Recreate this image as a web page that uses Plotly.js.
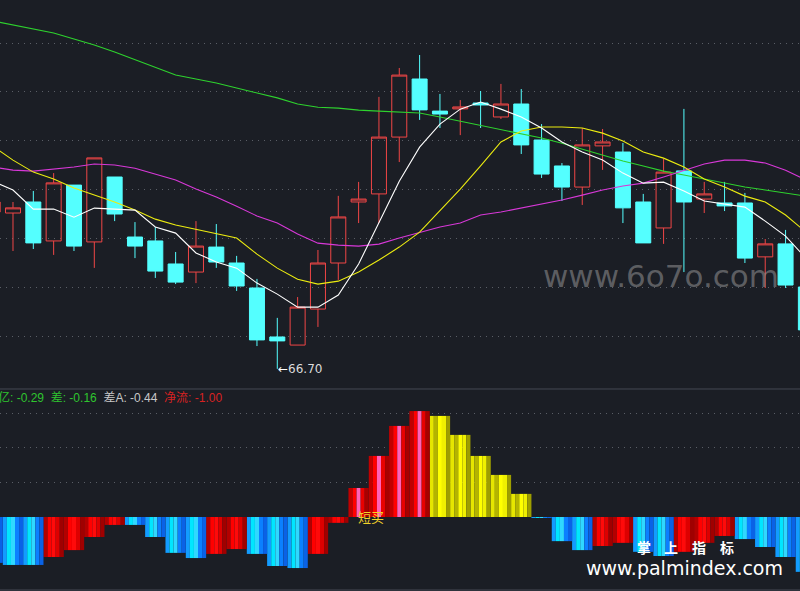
<!DOCTYPE html>
<html><head><meta charset="utf-8">
<script src="https://cdn.plot.ly/plotly-3.0.1.min.js"></script>
<style>html,body{margin:0;padding:0;background:#1b1e25;overflow:hidden}#chart{width:800px;height:591px}</style>
</head><body><div id="chart"></div>
<script>
// candle index positions (first one partly off-screen)
const firstIndex = -1;
const openP  = [73.10,73.06,73.51,71.92,74.20,71.88,74.53,72.08,71.92,70.98,70.65,71.67,71.02,70.00,68.00,67.67,69.14,71.02,73.51,73.84,76.16,78.53,77.22,77.31,77.55,76.98,77.51,76.04,74.98,74.12,75.80,75.55,73.51,72.45,74.78,73.63,73.47,73.47,71.27,71.80,70.04];
const highP  = [73.59,73.51,73.96,74.69,74.20,75.31,74.53,72.69,72.49,71.47,72.73,72.61,71.31,70.37,68.78,69.63,71.55,73.76,74.33,77.80,78.98,79.51,77.92,77.67,78.04,78.33,78.12,76.69,75.10,76.53,76.49,75.92,73.84,75.27,77.31,74.33,74.33,73.88,72.00,72.37,70.33];
const lowP   = [72.98,71.51,71.59,71.35,71.51,70.82,72.73,71.22,70.41,70.16,70.20,70.82,69.88,67.63,66.70,67.67,68.41,70.33,72.65,72.65,75.14,76.86,76.53,76.24,76.53,76.90,75.47,74.49,73.55,73.39,74.82,72.65,71.84,71.80,70.65,73.06,73.14,71.02,70.00,70.00,68.08];
const closeP = [73.51,73.27,71.84,74.29,71.71,75.31,73.02,71.71,70.69,70.24,71.71,71.06,70.08,67.88,67.84,69.22,71.02,72.90,73.63,76.16,78.69,77.27,77.10,77.39,77.47,77.51,75.84,74.65,74.12,75.84,75.96,73.27,71.84,74.73,73.51,73.84,73.35,71.22,71.80,70.12,68.29];

const maWhite   = [74.36,74.00,73.22,73.22,72.89,73.26,73.22,73.18,72.49,72.24,71.43,71.06,70.81,70.20,69.75,69.22,69.22,69.71,70.98,72.69,74.36,75.75,76.69,77.30,77.59,77.30,76.98,76.53,75.96,75.55,75.22,74.69,74.28,74.32,73.96,73.55,73.43,73.30,72.73,72.12,71.22];
const maYellow  = [75.79,75.22,74.73,74.45,74.08,73.79,73.51,73.18,72.81,72.57,72.40,72.20,72.04,71.38,70.81,70.36,70.16,70.28,70.65,71.14,71.67,72.28,73.14,74.04,74.98,75.96,76.41,76.57,76.57,76.53,76.32,76.00,75.55,75.30,74.94,74.45,74.12,73.75,73.51,72.98,72.28];
const maMagenta = [74.94,74.81,74.77,74.85,74.94,75.06,75.02,74.89,74.65,74.41,74.04,73.71,73.34,72.94,72.65,72.20,71.83,71.75,71.71,71.79,72.04,72.28,72.49,72.65,72.98,73.10,73.26,73.43,73.59,73.79,74.00,74.16,74.28,74.53,74.81,75.06,75.22,75.22,75.10,74.81,74.41];
const maGreen   = [80.90,80.73,80.57,80.41,80.16,79.92,79.63,79.31,79.02,78.69,78.53,78.37,78.16,77.96,77.76,77.51,77.38,77.34,77.26,77.22,77.18,77.14,76.98,76.81,76.61,76.45,76.28,76.12,75.91,75.67,75.42,75.18,74.98,74.77,74.61,74.45,74.28,74.12,74.00,73.87,73.75];

const flowVal  = [-1.33,-1.39,-1.39,-1.16,-0.96,-0.58,-0.23,-0.23,-0.58,-1.04,-1.19,-1.07,-0.93,-1.07,-1.42,-1.48,-1.07,-0.17,0.84,1.77,2.64,3.07,2.93,2.38,1.77,1.22,0.67,-0.03,-0.70,-0.96,-0.84,-0.75,-1.01,-1.13,-1.01,-0.75,-0.55,-0.64,-0.87,-1.16,-1.59];
const flowKind = ['B','B','B','R','R','R','R','B','B','B','B','R','R','B','B','B','R','R','P','P','P','P','Y','Y','Y','Y','Y','B','B','B','R','R','B','B','R','R','R','B','B','B','B'];

const legendParts = [
  {t:'亿: -0.29', c:'#2fc42f'},
  {t:'差: -0.16', c:'#2fc42f'},
  {t:'差A: -0.44', c:'#c8c8c8'},
  {t:'净流: -1.00', c:'#d82222'}
];
const lowLabel = '66.70';
const brandChars = ['掌','上','指','标'];

const stripes = {
  B: ['#139cff','#00e6ff','#30d8ff','#0b80ff','#0a62e6'],
  R: ['#b30000','#ff0000','#ff0a0a','#dd0000','#a00000'],
  P: ['#c00000','#ff0000','#ff62b8','#e80000','#a80000'],
  Y: ['#e6e600','#b4b400','#ffff00','#f0f000','#9e9e00']
};

const idx = openP.map((_, i) => i + firstIndex);
const BG = '#1b1e25';

const traces = [];
traces.push({
  type:'candlestick', x: idx, open: openP, high: highP, low: lowP, close: closeP,
  xaxis:'x', yaxis:'y',
  increasing:{line:{color:'#f04646', width:1}, fillcolor:'rgba(0,0,0,0)'},
  decreasing:{line:{color:'#54ffff', width:1}, fillcolor:'#54ffff'},
  whiskerwidth:0, hoverinfo:'skip'
});
const lineDefs = [
  [maGreen, '#2ed22e'],
  [maMagenta, '#d838d8'],
  [maYellow, '#ecec10'],
  [maWhite, '#ffffff']
];
lineDefs.forEach(([arr, col]) => traces.push({
  type:'scatter', mode:'lines', x: idx, y: arr, xaxis:'x', yaxis:'y',
  line:{color: col, width: 1.1}, hoverinfo:'skip'
}));
for (let s = 0; s < 5; s++) {
  traces.push({
    type:'bar', x: idx, y: flowVal, xaxis:'x', yaxis:'y2',
    width: 0.2, offset: -0.5 + 0.2 * s,
    marker:{color: flowKind.map(k => stripes[k][s]), line:{width:0}},
    hoverinfo:'skip'
  });
}

const split = 0.3418;
const legendText = legendParts.map(p => '<span style="color:' + p.c + '">' + p.t + '</span>').join('&nbsp;&nbsp;');
const gridDash = '1px,5px';

const annotations = [
  {xref:'x', yref:'y', x: idx[lowP.indexOf(Math.min(...lowP))], y: Math.min(...lowP), xanchor:'left', yanchor:'middle', xshift:-1,
   text:'<span style="color:#ffffff">←</span>' + lowLabel, showarrow:false,
   font:{family:'DejaVu Sans, Liberation Sans', size:12, color:'#dcdcdc'}},
  {xref:'paper', yref:'paper', x:0, y:1-397/591, xanchor:'left', yanchor:'middle', xshift:-4,
   text: legendText, showarrow:false, font:{family:'Liberation Sans, Noto Sans CJK SC', size:12}},
  {xref:'paper', yref:'paper', x:371/800, y:1-516/591, xanchor:'center', yanchor:'middle',
   text:'短买', showarrow:false, font:{family:'Noto Sans CJK SC', size:13, color:'#f2d22a'}},
  {xref:'paper', yref:'paper', x:661/800, y:1-276/591, xanchor:'center', yanchor:'middle',
   text:'www.6o7o.com', showarrow:false, font:{family:'DejaVu Sans', size:31, color:'rgba(150,150,150,0.55)'}},
  {xref:'paper', yref:'paper', x:684.5/800, y:1-568/591, xanchor:'center', yanchor:'middle', borderpad:0,
   text:'www.palmindex.com', showarrow:false, font:{family:'DejaVu Sans', size:19, color:'#ffffff'}}
];
brandChars.forEach((ch, i) => annotations.push({
  xref:'paper', yref:'paper', x:(643.5 + 27.7 * i)/800, y:1-546.5/591, xanchor:'center', yanchor:'middle',
  text:'<b>' + ch + '</b>', showarrow:false, borderpad:0,
  font:{family:'Noto Sans CJK SC', size:14, color:'#ffffff'}
}));

const layout = {
  width:800, height:591,
  margin:{l:0, r:0, t:0, b:0},
  paper_bgcolor: BG, plot_bgcolor: BG,
  showlegend:false, hovermode:false,
  barmode:'overlay', boxgap:0.262, boxgroupgap:0,
  xaxis:{range:[-0.639, 38.71], anchor:'y2', visible:false, rangeslider:{visible:false}, fixedrange:true},
  yaxis:{domain:[split, 1], range:[65.877, 81.755], tickvals:[68,70,72,74,76,78,80],
         showgrid:true, gridcolor:'#5a5e66', griddash:gridDash, gridwidth:1,
         showticklabels:false, zeroline:false, ticks:'', showline:false},
  yaxis2:{domain:[0, split], range:[-2.145, 3.71], tickvals:[1,2,3],
          showgrid:true, gridcolor:'#5a5e66', griddash:gridDash, gridwidth:1,
          showticklabels:false, zeroline:false, ticks:'', showline:false},
  shapes:[
    {type:'line', xref:'paper', yref:'paper', x0:0, x1:1, y0:split, y1:split, line:{color:'#454952', width:1}},
    {type:'line', xref:'paper', yref:'paper', x0:0, x1:1, y0:0.0017, y1:0.0017, line:{color:'#454952', width:1}}
  ],
  annotations: annotations
};

Plotly.newPlot('chart', traces, layout, {staticPlot:true, displayModeBar:false});
</script>
</body></html>
